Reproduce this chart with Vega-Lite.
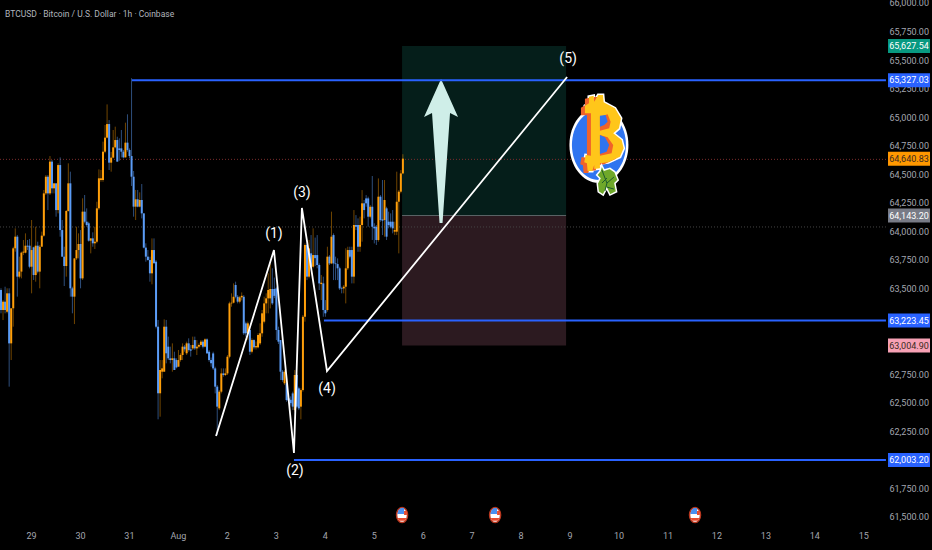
{"$schema":"https://vega.github.io/schema/vega-lite/v6.json","width":932,"height":550,"padding":0,"autosize":{"type":"none"},"background":"#000000","view":{"stroke":null},
"config":{"font":"Roboto","axis":{"title":null,"domain":false,"ticks":false,"grid":false,"labelPadding":2,"labelFontSize":9,"labelColor":"#a3a6af","labelFont":"Roboto","labelBound":false,"labelFlush":false}},
"resolve":{"scale":{"color":"independent"}},
"datasets":{
"candles":[
{"t":0,"o":63491,"h":63506,"l":63287,"c":63316},{"t":1,"o":63316,"h":63404,"l":63228,"c":63389},{"t":2,"o":63389,"h":63520,"l":63287,"c":63316},{"t":3,"o":63301,"h":63506,"l":63287,"c":63462},{"t":4,"o":63462,"h":63506,"l":62645,"c":63024},{"t":5,"o":63024,"h":63331,"l":62878,"c":63331},{"t":6,"o":63331,"h":63870,"l":63170,"c":63856},{"t":7,"o":63856,"h":64031,"l":63827,"c":63958},{"t":8,"o":63958,"h":63973,"l":63433,"c":63608},{"t":9,"o":63608,"h":63783,"l":63593,"c":63652},
{"t":10,"o":63652,"h":63827,"l":63593,"c":63818},{"t":11,"o":63818,"h":63929,"l":63797,"c":63827},{"t":12,"o":63818,"h":63987,"l":63812,"c":63879},{"t":13,"o":63879,"h":63929,"l":63841,"c":63870},{"t":14,"o":63879,"h":63938,"l":63681,"c":63695},{"t":15,"o":63695,"h":64104,"l":63462,"c":63841},{"t":16,"o":63865,"h":63870,"l":63579,"c":63622},{"t":17,"o":63622,"h":64045,"l":63564,"c":63879},{"t":18,"o":63879,"h":63914,"l":63637,"c":63652},{"t":19,"o":63652,"h":63885,"l":63506,"c":63870},
{"t":20,"o":63870,"h":64002,"l":63943,"c":63967},{"t":21,"o":63967,"h":64367,"l":63958,"c":64337},{"t":22,"o":64337,"h":64498,"l":64323,"c":64483},{"t":23,"o":64483,"h":64498,"l":64191,"c":64337},{"t":24,"o":64337,"h":64664,"l":64323,"c":64615},{"t":25,"o":64615,"h":64629,"l":64337,"c":64381},{"t":26,"o":64381,"h":64425,"l":64337,"c":64425},{"t":27,"o":64425,"h":64425,"l":64133,"c":64191},{"t":28,"o":64191,"h":64600,"l":64162,"c":64585},{"t":29,"o":64585,"h":64652,"l":63958,"c":64016},
{"t":30,"o":64016,"h":64104,"l":63783,"c":63783},{"t":31,"o":63783,"h":63870,"l":63526,"c":63701},{"t":32,"o":63701,"h":64191,"l":63608,"c":64183},{"t":33,"o":64183,"h":64600,"l":64177,"c":64425},{"t":34,"o":64425,"h":64527,"l":63433,"c":63506},{"t":35,"o":63506,"h":63520,"l":63287,"c":63433},{"t":36,"o":63433,"h":63768,"l":63193,"c":63768},{"t":37,"o":63768,"h":64045,"l":63754,"c":63841},{"t":38,"o":63841,"h":63987,"l":63768,"c":63894},{"t":39,"o":63894,"h":64016,"l":63506,"c":63593},
{"t":40,"o":63593,"h":64294,"l":63579,"c":64177},{"t":41,"o":64177,"h":64323,"l":64075,"c":64089},{"t":42,"o":64089,"h":64206,"l":64045,"c":64060},{"t":43,"o":64075,"h":64089,"l":63914,"c":63923},{"t":44,"o":63923,"h":63943,"l":63812,"c":63943},{"t":45,"o":63943,"h":63996,"l":63870,"c":63900},{"t":46,"o":63900,"h":64045,"l":63850,"c":63914},{"t":47,"o":63914,"h":64264,"l":63900,"c":64206},{"t":48,"o":64206,"h":64547,"l":64191,"c":64469},{"t":49,"o":64454,"h":64542,"l":64439,"c":64469},
{"t":50,"o":64454,"h":64790,"l":64439,"c":64702},{"t":51,"o":64702,"h":64936,"l":64688,"c":64825},{"t":52,"o":64825,"h":65116,"l":64819,"c":64944},{"t":53,"o":64944,"h":64979,"l":64542,"c":64606},{"t":54,"o":64606,"h":64700,"l":64527,"c":64650},{"t":55,"o":64650,"h":64892,"l":64644,"c":64740},{"t":56,"o":64740,"h":64921,"l":64731,"c":64804},{"t":57,"o":64804,"h":64833,"l":64615,"c":64615},{"t":58,"o":64731,"h":64819,"l":64623,"c":64717},{"t":59,"o":64731,"h":64892,"l":64652,"c":64702},
{"t":60,"o":64702,"h":64717,"l":64644,"c":64652},{"t":61,"o":64652,"h":64956,"l":64652,"c":64781},{"t":62,"o":64781,"h":65029,"l":64702,"c":64717},{"t":63,"o":64717,"h":64731,"l":64644,"c":64664},{"t":64,"o":64664,"h":65345,"l":64402,"c":64483},{"t":65,"o":64483,"h":64533,"l":64133,"c":64221},{"t":66,"o":64221,"h":64367,"l":64104,"c":64285},{"t":67,"o":64285,"h":64367,"l":64215,"c":64221},{"t":68,"o":64221,"h":64346,"l":64215,"c":64279},{"t":69,"o":64279,"h":64419,"l":64118,"c":64162},
{"t":70,"o":64162,"h":64162,"l":63856,"c":63862},{"t":71,"o":63862,"h":63900,"l":63739,"c":63783},{"t":72,"o":63783,"h":63841,"l":63748,"c":63754},{"t":73,"o":63754,"h":63783,"l":63564,"c":63637},{"t":74,"o":63637,"h":63943,"l":63541,"c":63841},{"t":75,"o":63841,"h":63943,"l":63725,"c":63725},{"t":76,"o":63739,"h":63754,"l":63155,"c":63170},{"t":77,"o":63170,"h":63229,"l":62359,"c":62587},{"t":78,"o":62587,"h":62878,"l":62382,"c":62791},{"t":79,"o":62776,"h":62878,"l":62718,"c":62805},
{"t":80,"o":62776,"h":63234,"l":62776,"c":63170},{"t":81,"o":63170,"h":63229,"l":62849,"c":62937},{"t":82,"o":62995,"h":63083,"l":62878,"c":62893},{"t":83,"o":62893,"h":62995,"l":62849,"c":62878},{"t":84,"o":62878,"h":63024,"l":62776,"c":62893},{"t":85,"o":62893,"h":62951,"l":62791,"c":62791},{"t":86,"o":62878,"h":62893,"l":62805,"c":62814},{"t":87,"o":62820,"h":62966,"l":62820,"c":62878},{"t":88,"o":62878,"h":62937,"l":62864,"c":62922},{"t":89,"o":62922,"h":63024,"l":62878,"c":62995},
{"t":90,"o":62995,"h":63010,"l":62951,"c":62972},{"t":91,"o":62937,"h":63039,"l":62922,"c":63024},{"t":92,"o":63024,"h":63068,"l":62951,"c":62966},{"t":93,"o":62972,"h":63010,"l":62908,"c":62960},{"t":94,"o":62980,"h":63083,"l":62966,"c":63010},{"t":95,"o":63053,"h":63083,"l":62966,"c":62980},{"t":96,"o":62980,"h":63053,"l":62922,"c":62995},{"t":97,"o":62995,"h":63024,"l":62980,"c":63010},{"t":98,"o":63010,"h":63053,"l":62995,"c":63039},{"t":99,"o":63039,"h":63053,"l":62980,"c":62995},
{"t":100,"o":62995,"h":63068,"l":62989,"c":63059},{"t":101,"o":63059,"h":63068,"l":62931,"c":62937},{"t":102,"o":62951,"h":62966,"l":62863,"c":62878},{"t":103,"o":62878,"h":62900,"l":62820,"c":62850},{"t":104,"o":62936,"h":62951,"l":62791,"c":62805},{"t":105,"o":62805,"h":62820,"l":62586,"c":62645},{"t":106,"o":62645,"h":62659,"l":62222,"c":62470},{"t":107,"o":62455,"h":62615,"l":62440,"c":62601},{"t":108,"o":62601,"h":62805,"l":62586,"c":62761},{"t":109,"o":62761,"h":62805,"l":62732,"c":62747},
{"t":110,"o":62747,"h":62805,"l":62738,"c":62761},{"t":111,"o":62761,"h":62922,"l":62747,"c":62907},{"t":112,"o":62907,"h":63389,"l":62893,"c":63374},{"t":113,"o":63374,"h":63462,"l":63345,"c":63380},{"t":114,"o":63380,"h":63549,"l":63374,"c":63432},{"t":115,"o":63535,"h":63564,"l":63418,"c":63432},{"t":116,"o":63432,"h":63447,"l":63374,"c":63389},{"t":117,"o":63389,"h":63438,"l":63374,"c":63427},{"t":118,"o":63427,"h":63470,"l":63400,"c":63440},{"t":119,"o":63432,"h":63447,"l":63097,"c":63112},
{"t":120,"o":63199,"h":63214,"l":63082,"c":63112},{"t":121,"o":63112,"h":63214,"l":63053,"c":63199},{"t":122,"o":63141,"h":63155,"l":62922,"c":62951},{"t":123,"o":62951,"h":63068,"l":62936,"c":63053},{"t":124,"o":63053,"h":63059,"l":62971,"c":62989},{"t":125,"o":62989,"h":63040,"l":62970,"c":63000},{"t":126,"o":62989,"h":63112,"l":62980,"c":63097},{"t":127,"o":63024,"h":63199,"l":63009,"c":63112},{"t":128,"o":63112,"h":63316,"l":63082,"c":63287},{"t":129,"o":63214,"h":63433,"l":63199,"c":63374},
{"t":130,"o":63374,"h":63462,"l":63287,"c":63418},{"t":131,"o":63418,"h":63637,"l":63287,"c":63491},{"t":132,"o":63418,"h":63724,"l":63330,"c":63500},{"t":133,"o":63500,"h":63681,"l":63360,"c":63374},{"t":134,"o":63500,"h":63600,"l":63420,"c":63440},{"t":135,"o":63505,"h":63520,"l":63053,"c":63141},{"t":136,"o":63141,"h":63170,"l":63018,"c":63039},{"t":137,"o":63053,"h":63053,"l":62703,"c":62776},{"t":138,"o":62776,"h":62791,"l":62688,"c":62703},{"t":139,"o":62674,"h":62791,"l":62659,"c":62776},
{"t":140,"o":62674,"h":62688,"l":62513,"c":62528},{"t":141,"o":62542,"h":62586,"l":62499,"c":62522},{"t":142,"o":62530,"h":62560,"l":62480,"c":62500},{"t":143,"o":62586,"h":62601,"l":62440,"c":62470},{"t":144,"o":62440,"h":62791,"l":62426,"c":62747},{"t":145,"o":62747,"h":62761,"l":62455,"c":62470},{"t":146,"o":62630,"h":62645,"l":62440,"c":62455},{"t":147,"o":62470,"h":62630,"l":62359,"c":62615},{"t":148,"o":62615,"h":63272,"l":62601,"c":63257},{"t":149,"o":63257,"h":63899,"l":63214,"c":63885},
{"t":150,"o":63885,"h":63899,"l":63578,"c":63608},{"t":151,"o":63608,"h":63929,"l":63593,"c":63856},{"t":152,"o":63812,"h":63972,"l":63681,"c":63695},{"t":153,"o":63695,"h":64031,"l":63681,"c":63797},{"t":154,"o":63797,"h":63950,"l":63700,"c":63770},{"t":155,"o":63797,"h":63972,"l":63681,"c":63710},{"t":156,"o":63710,"h":63724,"l":63491,"c":63549},{"t":157,"o":63543,"h":63622,"l":63403,"c":63555},{"t":158,"o":63549,"h":63608,"l":63257,"c":63316},{"t":159,"o":63316,"h":63403,"l":63257,"c":63287},
{"t":160,"o":63316,"h":63870,"l":63301,"c":63783},{"t":161,"o":63783,"h":63797,"l":63710,"c":63724},{"t":162,"o":63724,"h":64177,"l":63718,"c":63958},{"t":163,"o":63972,"h":63987,"l":63578,"c":63724},{"t":164,"o":63724,"h":63783,"l":63578,"c":63718},{"t":165,"o":63718,"h":63768,"l":63578,"c":63681},{"t":166,"o":63681,"h":63695,"l":63491,"c":63505},{"t":167,"o":63505,"h":63520,"l":63462,"c":63500},{"t":168,"o":63505,"h":63535,"l":63462,"c":63520},{"t":169,"o":63520,"h":63856,"l":63374,"c":63681},
{"t":170,"o":63681,"h":63870,"l":63666,"c":63841},{"t":171,"o":63841,"h":63870,"l":63768,"c":63783},{"t":172,"o":63841,"h":63870,"l":63549,"c":63608},{"t":173,"o":63608,"h":64191,"l":63549,"c":64060},{"t":174,"o":64060,"h":64147,"l":64016,"c":64045},{"t":175,"o":64060,"h":64118,"l":63826,"c":63870},{"t":176,"o":63870,"h":64133,"l":63826,"c":64060},{"t":177,"o":64060,"h":64366,"l":63914,"c":64250},{"t":178,"o":64250,"h":64279,"l":64118,"c":64191},{"t":179,"o":64293,"h":64322,"l":64220,"c":64250},
{"t":180,"o":64293,"h":64308,"l":64045,"c":64133},{"t":181,"o":64133,"h":64235,"l":64118,"c":64220},{"t":182,"o":64220,"h":64489,"l":63929,"c":64045},{"t":183,"o":64045,"h":64075,"l":63899,"c":64031},{"t":184,"o":64045,"h":64060,"l":63885,"c":63929},{"t":185,"o":63929,"h":64468,"l":63914,"c":64308},{"t":186,"o":64308,"h":64322,"l":64089,"c":64104},{"t":187,"o":64110,"h":64454,"l":63972,"c":64098},{"t":188,"o":64104,"h":64454,"l":63958,"c":64279},{"t":189,"o":64206,"h":64220,"l":63929,"c":63958},
{"t":190,"o":64089,"h":64177,"l":64031,"c":64060},{"t":191,"o":64089,"h":64162,"l":64031,"c":64045},{"t":192,"o":64089,"h":64191,"l":63987,"c":64031},{"t":193,"o":64002,"h":64089,"l":63972,"c":64016},{"t":194,"o":64002,"h":64527,"l":63972,"c":64264},{"t":195,"o":64264,"h":64366,"l":63812,"c":64352},{"t":196,"o":64352,"h":64541,"l":64337,"c":64512},{"t":197,"o":64512,"h":64680,"l":64505,"c":64641}
],
"box":[{"t0":196.6,"t1":277,"p0":65627.54,"p1":64143.2,"k":"target"},{"t0":196.6,"t1":277,"p0":64143.2,"p1":63004.9,"k":"stop"}],
"levels":[{"t0":64.2,"t1":433.8,"p":65327.03},{"t0":158.3,"t1":433.8,"p":63223.45},{"t0":143.6,"t1":433.8,"p":62003.2}],
"wave":[{"n":0,"t":105.4,"p":62213},{"n":1,"t":133.8,"p":63841},{"n":2,"t":143.6,"p":62064},{"n":3,"t":147.5,"p":64209},{"n":4,"t":159.8,"p":62782},{"n":5,"t":277.5,"p":65356}],
"waveText":[{"s":"(1)","t":133.8,"p":63982},{"s":"(2)","t":144.1,"p":61906},{"s":"(3)","t":147.5,"p":64340},{"s":"(4)","t":159.8,"p":62624},{"s":"(5)","t":278,"p":65513}],
"priceTicks":[{"p":66000,"s":"66,000.00"},{"p":65750,"s":"65,750.00"},{"p":65500,"s":"65,500.00"},{"p":65250,"s":"65,250.00"},{"p":65000,"s":"65,000.00"},{"p":64750,"s":"64,750.00"},{"p":64500,"s":"64,500.00"},{"p":64250,"s":"64,250.00"},{"p":64000,"s":"64,000.00"},{"p":63750,"s":"63,750.00"},{"p":63500,"s":"63,500.00"},{"p":63250,"s":"63,250.00"},{"p":62750,"s":"62,750.00"},{"p":62500,"s":"62,500.00"},{"p":62250,"s":"62,250.00"},{"p":61750,"s":"61,750.00"},{"p":61500,"s":"61,500.00"}],
"tags":[{"s":"65,627.54","p":65627.54,"k":"target"},{"s":"65,327.03","p":65327.03,"k":"level"},{"s":"64,640.83","p":64640.83,"k":"last"},{"s":"64,143.20","p":64143.2,"k":"entry"},{"s":"63,223.45","p":63223.45,"k":"level"},{"s":"63,004.90","p":63004.9,"k":"stop"},{"s":"62,003.20","p":62003.2,"k":"level"}],
"logo":[{"t":293.1,"p":64760}],
"arrow":[{"t":215.7,"p":64717}],
"flags":[{"t":196.6,"p":61521},{"t":242.2,"p":61521},{"t":340.2,"p":61521}]
},
"layer":[
{"data":{"name":"box"},"mark":{"type":"rect"},"encoding":{
"x":{"field":"t0","type":"quantitative","scale":{"domain":[-0.49,456.37],"nice":false,"zero":false},
"axis":{"orient":"bottom","offset":-21,"labelOverlap":false,
"values":[14.7,38.7,62.7,86.7,110.7,134.7,158.7,182.7,206.7,230.7,254.7,278.7,302.7,326.7,350.7,374.7,398.7,422.7],
"labelExpr":"['29','30','31','Aug','2','3','4','5','6','7','8','9','10','11','12','13','14','15'][round((datum.value-14.7)/24)]"}},
"x2":{"field":"t1"},
"y":{"field":"p0","type":"quantitative","scale":{"domain":[61215,66030],"nice":false,"zero":false},
"axis":{"orient":"left","offset":-931,"labels":false}},
"y2":{"field":"p1"},
"color":{"field":"k","type":"nominal","legend":null,"scale":{"domain":["target","stop"],"range":["#051e1a","#2c1a20"]}}}},
{"data":{"name":"box"},"transform":[{"filter":"datum.k=='stop'"}],"mark":{"type":"rule","color":"#5b6466","strokeWidth":1},"encoding":{"x":{"field":"t0","type":"quantitative"},"x2":{"field":"t1"},"y":{"field":"p0","type":"quantitative"}}},
{"data":{"values":[{"p":64635,"k":"last"},{"p":64043,"k":"prev"}]},"mark":{"type":"rule","strokeWidth":1,"strokeDash":[1,2]},"encoding":{"y":{"field":"p","type":"quantitative"},"color":{"field":"k","type":"nominal","legend":null,"scale":{"domain":["last","prev"],"range":["#7a2c2c","#454545"]}},"x":{"datum":-0.49,"type":"quantitative"},"x2":{"datum":433.8}}},
{"data":{"name":"priceTicks"},"mark":{"type":"text","color":"#a3a6af","fontSize":9,"font":"Roboto","align":"right","baseline":"middle"},"encoding":{"x":{"datum":454.9,"type":"quantitative"},"y":{"field":"p","type":"quantitative"},"text":{"field":"s"}}},
{"data":{"name":"candles"},"mark":{"type":"rule","strokeWidth":1,"opacity":0.5},"encoding":{"x":{"field":"t","type":"quantitative"},"y":{"field":"l","type":"quantitative"},"y2":{"field":"h"},"color":{"condition":{"test":"datum.c>=datum.o","value":"#e08a00"},"value":"#5b9cf6"}}},
{"data":{"name":"candles"},"mark":{"type":"rule","strokeWidth":2},"encoding":{"x":{"field":"t","type":"quantitative"},"y":{"field":"o","type":"quantitative"},"y2":{"field":"c"},"color":{"condition":{"test":"datum.c>=datum.o","value":"#ff9f0a"},"value":"#5b9cf6"}}},
{"data":{"name":"arrow"},"mark":{"type":"point","shape":"M0,-71L17,-33L9,-37L1.5,73L-1.5,73L-9,-37L-17,-33Z","size":4,"filled":true,"opacity":1,"color":"#cfeee8"},"encoding":{"x":{"field":"t","type":"quantitative"},"y":{"field":"p","type":"quantitative"}}},
{"data":{"name":"levels"},"mark":{"type":"rule","color":"#2962ff","strokeWidth":2},"encoding":{"x":{"field":"t0","type":"quantitative"},"x2":{"field":"t1"},"y":{"field":"p","type":"quantitative"}}},
{"data":{"name":"wave"},"mark":{"type":"line","color":"#ffffff","strokeWidth":1.8},"encoding":{"x":{"field":"t","type":"quantitative"},"y":{"field":"p","type":"quantitative"},"order":{"field":"n"}}},
{"data":{"name":"waveText"},"mark":{"type":"text","color":"#ffffff","fontSize":14,"font":"Roboto","align":"center","baseline":"middle"},"encoding":{"x":{"field":"t","type":"quantitative"},"y":{"field":"p","type":"quantitative"},"text":{"field":"s"}}},
{"data":{"name":"tags"},"mark":{"type":"point","shape":"M-21,-7H21V7H-21Z","size":4,"filled":true,"opacity":1},"encoding":{"x":{"datum":445.1,"type":"quantitative"},"y":{"field":"p","type":"quantitative"},"color":{"field":"k","type":"nominal","legend":null,"scale":{"domain":["target","level","last","entry","stop"],"range":["#089981","#2962ff","#ff9800","#787b86","#f7a1b5"]}}}},
{"data":{"name":"tags"},"mark":{"type":"text","fontSize":9,"font":"Roboto","align":"center","baseline":"middle"},"encoding":{"x":{"datum":445.1,"type":"quantitative"},"y":{"field":"p","type":"quantitative"},"text":{"field":"s"},"color":{"condition":{"test":"datum.k=='last'||datum.k=='stop'","value":"#3a2a20"},"value":"#ffffff"}}},
{"data":{"values":[{"s":"BTCUSD · Bitcoin / U.S. Dollar · 1h · Coinbase","t":1.96,"p":65907}]},"mark":{"type":"text","color":"#b2b5be","fontSize":8.5,"font":"Roboto","align":"left","baseline":"middle"},"encoding":{"x":{"field":"t","type":"quantitative"},"y":{"field":"p","type":"quantitative"},"text":{"field":"s"}}},
{"data":{"name":"logo"},"mark":{"type":"point","shape":"M-29.5,0A29.5,38,0,1,1,29.5,0A29.5,38,0,1,1,-29.5,0Z","size":4,"filled":true,"opacity":1,"color":"#ffffff"},"encoding":{"x":{"field":"t","type":"quantitative"},"y":{"field":"p","type":"quantitative"}}},
{"data":{"name":"logo"},"mark":{"type":"point","shape":"M-27,0A27,35,0,1,1,27,0A27,35,0,1,1,-27,0Z","size":4,"filled":true,"opacity":1,"color":"#2f74f0"},"encoding":{"x":{"field":"t","type":"quantitative"},"y":{"field":"p","type":"quantitative"}}},
{"data":{"name":"logo"},"mark":{"type":"point","shape":"M-10,-48.3L-5.3,-49.3L-4.7,-43.3L-0.7,-50L4,-50L4.7,-42.7L16,-36.7L22,-26.7L20,-16.7L14.3,-11.7L22.7,-5L24.7,3.3L21,11.7L9.3,17.3L1,18.3L1,23.3L-4.7,24L-4.7,20L-6.7,26L-11.3,26L-12,18.3L-14.7,17.3L-13.3,10L-8,10.7L-8,-31.7L-14,-31.7L-14,-39.3L-10,-41.7Z","size":4,"filled":true,"opacity":1,"color":"#ffffff","stroke":"#ffffff","strokeWidth":3},"encoding":{"x":{"field":"t","type":"quantitative"},"y":{"field":"p","type":"quantitative"}}},
{"data":{"name":"logo"},"mark":{"type":"point","xOffset":-4,"yOffset":2,"shape":"M-10,-48.3L-5.3,-49.3L-4.7,-43.3L-0.7,-50L4,-50L4.7,-42.7L16,-36.7L22,-26.7L20,-16.7L14.3,-11.7L22.7,-5L24.7,3.3L21,11.7L9.3,17.3L1,18.3L1,23.3L-4.7,24L-4.7,20L-6.7,26L-11.3,26L-12,18.3L-14.7,17.3L-13.3,10L-8,10.7L-8,-31.7L-14,-31.7L-14,-39.3L-10,-41.7Z","size":4,"filled":true,"opacity":1,"color":"#f0622a"},"encoding":{"x":{"field":"t","type":"quantitative"},"y":{"field":"p","type":"quantitative"}}},
{"data":{"name":"logo"},"mark":{"type":"point","shape":"M-10,-48.3L-5.3,-49.3L-4.7,-43.3L-0.7,-50L4,-50L4.7,-42.7L16,-36.7L22,-26.7L20,-16.7L14.3,-11.7L22.7,-5L24.7,3.3L21,11.7L9.3,17.3L1,18.3L1,23.3L-4.7,24L-4.7,20L-6.7,26L-11.3,26L-12,18.3L-14.7,17.3L-13.3,10L-8,10.7L-8,-31.7L-14,-31.7L-14,-39.3L-10,-41.7Z","size":4,"filled":true,"opacity":1,"color":"#ffc61a"},"encoding":{"x":{"field":"t","type":"quantitative"},"y":{"field":"p","type":"quantitative"}}},
{"data":{"name":"logo"},"mark":{"type":"point","shape":"M1,-28.3L8.7,-30.7L11.7,-23.3L10.3,-16.7L1,-14.3ZM1,-10L8.7,-7.7L14.3,0L12.7,8.3L1,10.7Z","size":4,"filled":true,"opacity":1,"color":"#f0622a"},"encoding":{"x":{"field":"t","type":"quantitative"},"y":{"field":"p","type":"quantitative"}}},
{"data":{"name":"logo"},"mark":{"type":"point","shape":"M1,-29.3L6.7,-30L8.7,-23.3L5.3,-20L1,-18.3ZM1,-10L6,-7.7L10.3,0L7.7,6.7L1,9Z","size":4,"filled":true,"opacity":1,"color":"#2f74f0"},"encoding":{"x":{"field":"t","type":"quantitative"},"y":{"field":"p","type":"quantitative"}}},
{"data":{"name":"logo"},"mark":{"type":"point","shape":"M2.7,20L5.3,25L11,23.3L16,26.7L19.3,35L16,38.3L17.7,46.7L11,50L7.7,43.3L4.3,50L-0.7,46.7L-1.7,38.3L1,33.3L-2.3,30L1,26Z","size":4,"filled":true,"opacity":1,"color":"#6fa82a","stroke":"#ffffff","strokeWidth":1.5},"encoding":{"x":{"field":"t","type":"quantitative"},"y":{"field":"p","type":"quantitative"}}},
{"data":{"name":"logo"},"mark":{"type":"point","shape":"M3,25L8,38L6,46M8,38L15,32M8,33L3,38M8,42L15,44","size":4,"filled":false,"opacity":1,"color":"#1d5a2e","strokeWidth":1},"encoding":{"x":{"field":"t","type":"quantitative"},"y":{"field":"p","type":"quantitative"}}},
{"data":{"name":"flags"},"mark":{"type":"point","shape":"M-5.5,0A5.5,7.5,0,1,1,5.5,0A5.5,7.5,0,1,1,-5.5,0Z","size":4,"filled":true,"opacity":1,"color":"#ffffff","stroke":"#b8371f","strokeWidth":1.5},"encoding":{"x":{"field":"t","type":"quantitative"},"y":{"field":"p","type":"quantitative"}}},
{"data":{"name":"flags"},"mark":{"type":"point","shape":"M-4.7,-1L-3.5,-5L-1,-7L2,-7L2,-1Z","size":4,"filled":true,"opacity":1,"color":"#4a90f0"},"encoding":{"x":{"field":"t","type":"quantitative"},"y":{"field":"p","type":"quantitative"}}},
{"data":{"name":"flags"},"mark":{"type":"point","shape":"M2,-4H4.8V0H2ZM-4.3,3H4.3L3,5.8H-3Z","size":4,"filled":true,"opacity":1,"color":"#e84b2e"},"encoding":{"x":{"field":"t","type":"quantitative"},"y":{"field":"p","type":"quantitative"}}}
]}
